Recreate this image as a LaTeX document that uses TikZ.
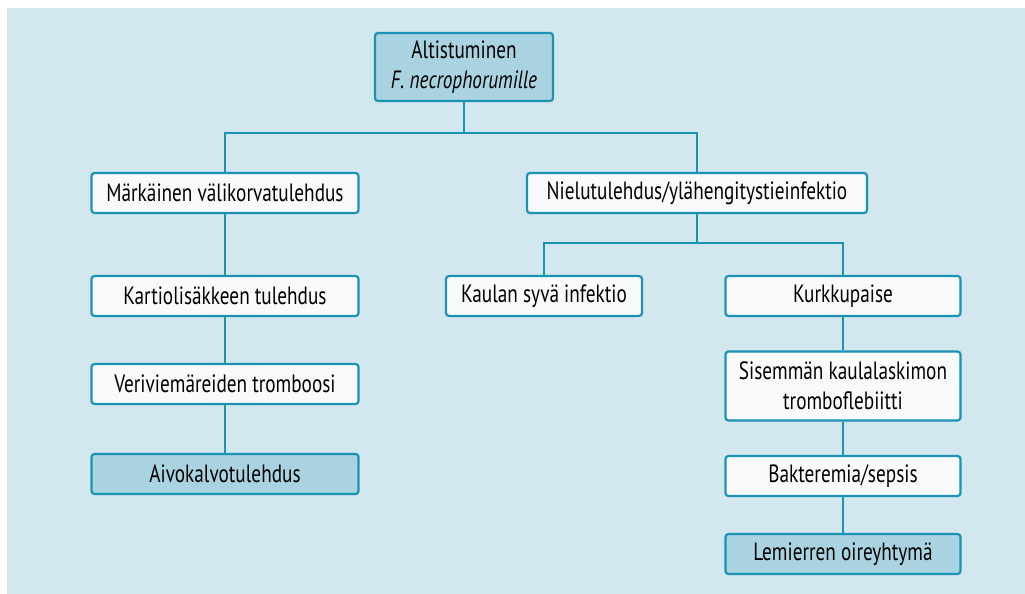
\documentclass[tikz,border=0pt]{standalone}
\usepackage{fontspec}
\setmainfont{PT Sans}[FakeStretch=0.77]
\usepackage{xcolor}
\usepackage{tikz}

\definecolor{bgblue}{HTML}{D3E7EE}
\definecolor{edgeblue}{HTML}{1B93B4}
\definecolor{keyblue}{HTML}{A9D3E1}
\definecolor{boxwhite}{HTML}{F9FAFC}

\begin{document}
\begin{tikzpicture}[
    x=1pt, y=-1pt,
    box/.style={rectangle, rounded corners=3pt, draw=edgeblue, line width=2.2pt, fill=boxwhite,
        minimum height=40pt, align=center, inner sep=2pt, font=\fontsize{25}{30}\selectfont},
    key/.style={box, fill=keyblue},
    link/.style={draw=edgeblue, line width=2.6pt}
]
    \useasboundingbox (0,0) rectangle (1025,594);
    \fill[bgblue] (7,8) rectangle (1025,594);

    % Top - exposure
    \node[key, minimum width=178pt, minimum height=68pt] (alti) at (464,67) {Altistuminen\\\textit{F. necrophorumille}};

    % Second level
    \node[box, minimum width=267pt] (otitis) at (225,193) {Märkäinen välikorvatulehdus};
    \node[box, minimum width=340pt] (pharyn) at (697,193) {Nielutulehdus/ylähengitystieinfektio};

    % Left branch
    \node[box, minimum width=267pt] (mastoid) at (225,296) {Kartiolisäkkeen tulehdus};
    \node[box, minimum width=267pt] (sinus) at (225,384) {Veriviemäreiden tromboosi};
    \node[key, minimum width=267pt] (mening) at (225,474) {Aivokalvotulehdus};

    % Right branch
    \node[box, minimum width=196pt] (neck) at (544,296) {Kaulan syvä infektio};
    \node[box, minimum width=235pt] (abscess) at (843,296) {Kurkkupaise};
    \node[box, minimum width=235pt, minimum height=69pt] (jugular) at (843,386) {Sisemmän kaulalaskimon\\tromboflebiitti};
    \node[box, minimum width=235pt] (sepsis) at (843,476) {Bakteremia/sepsis};
    \node[key, minimum width=235pt] (lemierre) at (843,554) {Lemierren oireyhtymä};

    % Connectors
    \coordinate (split1) at (464,133);
    \coordinate (split2) at (697,243);
    \draw[link] (alti) -- (split1);
    \draw[link] (otitis.north) |- (split1) -| (pharyn.north);
    \draw[link] (pharyn) -- (split2);
    \draw[link] (neck.north) |- (split2) -| (abscess.north);
    \draw[link] (otitis) -- (mastoid);
    \draw[link] (mastoid) -- (sinus);
    \draw[link] (sinus) -- (mening);
    \draw[link] (abscess) -- (jugular);
    \draw[link] (jugular) -- (sepsis);
    \draw[link] (sepsis) -- (lemierre);
\end{tikzpicture}
\end{document}
